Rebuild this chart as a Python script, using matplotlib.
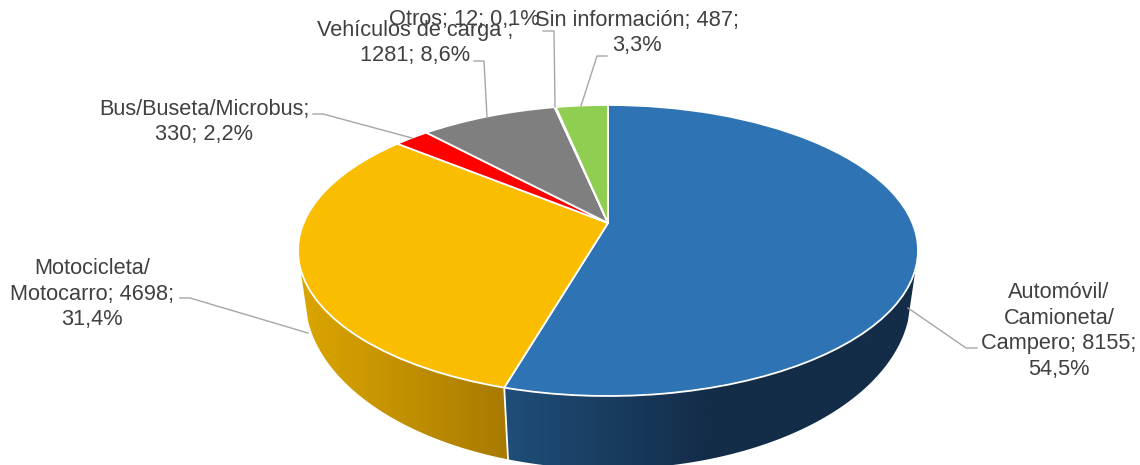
import numpy as np
import matplotlib
matplotlib.use("Agg")
import matplotlib.pyplot as plt
from matplotlib.colors import LinearSegmentedColormap
from matplotlib.patches import Polygon
from matplotlib.transforms import Transform

plt.rcParams['font.family'] = ['Liberation Sans', 'DejaVu Sans']

categories = ["Automóvil/Camioneta/Campero", "Motocicleta/Motocarro", "Bus/Buseta/Microbus",
              "Vehículos de carga", "Otros", "Sin información"]
values = [8155, 4698, 330, 1281, 12, 487]
colors = ["#2E74B5", "#FABD00", "#FF0000", "#7F7F7F", "#5B9BD5", "#8FCE50"]
labels = ["Automóvil/\nCamioneta/\nCampero; 8155;\n54,5%",
          "Motocicleta/\nMotocarro; 4698;\n31,4%",
          "Bus/Buseta/Microbus;\n330; 2,2%",
          "Vehículos de carga ;\n1281; 8,6%",
          "Otros; 12; 0,1%",
          "Sin información; 487;\n3,3%"]
label_xy = [(1059, 331), (92, 294), (204, 122), (415.5, 43), (464, 20), (637, 33)]
leaders = [[(908, 308), (966, 348), (977, 348)],
           [(180, 298), (190, 298), (308, 333)],
           [(313, 114), (323, 114), (412, 138)],
           [(474, 61), (484, 61), (487, 117)],
           [(543, 31), (554, 31), (555, 107)],
           [(607, 56), (597, 56), (581, 106)]]


class Tilt(Transform):
    """Perspective view of the unit-circle pie, in pixel coordinates."""
    input_dims = output_dims = 2

    def __init__(self, cx, cy, a, b, k):
        super().__init__()
        self.p = (cx, cy, a, b, k)

    def transform_non_affine(self, xy):
        cx, cy, a, b, k = self.p
        xy = np.asarray(xy, float)
        w = 1 + k * xy[:, 1]
        return np.column_stack([cx + b * xy[:, 0] / w, cy - a * xy[:, 1] / w])


top = Tilt(608, 223, 140.3, 304.4, 0.189)
bottom = Tilt(608, 268, 165.8, 298, 0.175)


def rim(tr, t0, t1):
    t = np.radians(np.linspace(t0, t1, 120))
    return tr.transform_non_affine(np.column_stack([np.sin(t), np.cos(t)]))


fig = plt.figure(figsize=(11.4, 4.65), dpi=100)
ax = fig.add_axes([0, 0, 1, 1])
wedges, _ = ax.pie(values, colors=colors, startangle=90, counterclock=False,
                   wedgeprops=dict(edgecolor="white", linewidth=1.3, zorder=5))
for w in wedges:
    w.set_transform(top + ax.transData)
ax.set_aspect("auto")
ax.axis("off")

# side walls: only the two front slices show a wall
fr = np.cumsum([0] + values) / sum(values) * 360
wall_range = (107.6, 252.4)
walls = [((wall_range[0], fr[1]), ["#1F4E79", "#132C47", "#132C47"], (505, 916)),
         ((fr[1], wall_range[1]), ["#DBA600", "#A87A00"], (300, 508))]
for (t0, t1), cols, (x0, x1) in walls:
    poly = np.vstack([rim(top, t0, t1), rim(bottom, t1, t0)])
    patch = Polygon(poly, closed=True, facecolor="none", edgecolor="none", transform=ax.transData)
    ax.add_patch(patch)
    cmap = LinearSegmentedColormap.from_list("wall", cols)
    im = ax.imshow(np.linspace(0, 1, 256)[None, :], cmap=cmap, aspect="auto",
                   extent=(x0, x1, 470, 230), zorder=2)
    im.set_clip_path(patch)
ax.set_xlim(0, 1140)
ax.set_ylim(465, 0)

# white divider on the wall between the two visible slices
div = np.vstack([rim(top, fr[1], fr[1])[:1], rim(bottom, fr[1], fr[1])[:1]])
ax.plot(div[:, 0], div[:, 1], color="white", lw=1.3, zorder=4)

for pts in leaders:
    xs, ys = zip(*pts)
    ax.plot(xs, ys, color="#A6A6A6", lw=1.0, zorder=6, solid_joinstyle="round")
for (x, y), s in zip(label_xy, labels):
    ax.text(x, y, s, ha="center", va="center", fontsize=15.7, color="#404040",
            linespacing=1.29, zorder=7)

fig.savefig("out.png", dpi=100)
